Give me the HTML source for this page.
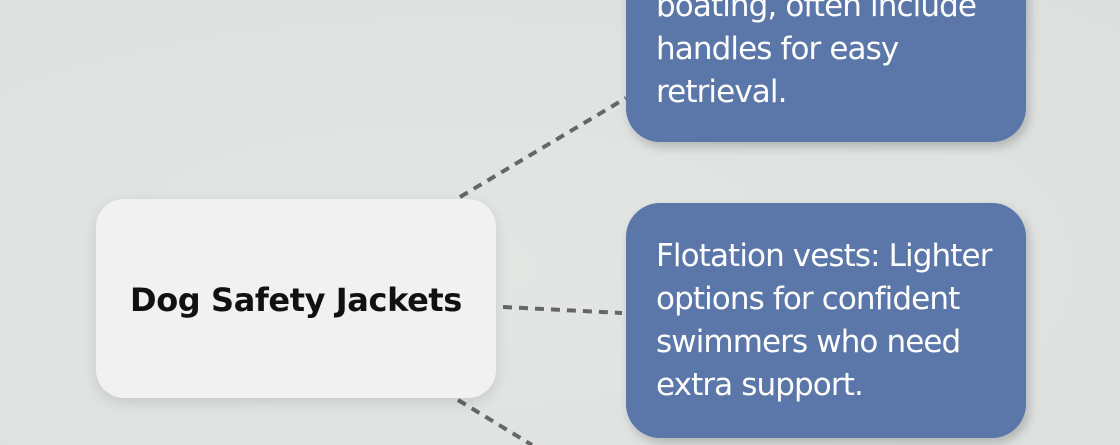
<!DOCTYPE html>
<html><head><style>
html,body{margin:0;padding:0}
body{width:1120px;height:445px;overflow:hidden;position:relative;background:radial-gradient(ellipse at 40% 60%,#e4e6e5,#dcdfde);font-family:"Liberation Sans","DejaVu Sans",sans-serif}
.n{position:absolute;box-sizing:border-box}
.c{left:96px;top:199px;width:400px;height:199px;background:#f0f1f0;border-radius:28px;box-shadow:0 4px 14px rgba(0,0,0,.12);display:flex;align-items:center;justify-content:center;font-weight:bold;font-size:32px;color:#111;font-family:"DejaVu Sans",sans-serif;letter-spacing:-0.4px;padding-top:2px}
.b{left:626px;width:400px;background:#5b76a8;border-radius:34px;color:#fff;font-size:31px;line-height:43px;padding-left:30px;box-shadow:3px 5px 10px rgba(0,0,0,.2);font-family:"DejaVu Sans",sans-serif;letter-spacing:-0.9px;white-space:nowrap}
</style></head><body>
<svg width="1120" height="445" style="position:absolute;left:0;top:0">
<g stroke="#666" stroke-width="4" stroke-dasharray="9,7" fill="none">
<line x1="460" y1="197" x2="626" y2="98"/>
<line x1="503" y1="307" x2="622" y2="313"/>
<line x1="458" y1="400" x2="532" y2="445"/>
</g></svg>
<div class="n c">Dog Safety Jackets</div>
<div class="n b" style="top:-100px;height:242px;padding-top:42px">Life jackets: Ideal for<br>boating, often include<br>handles for easy<br>retrieval.</div>
<div class="n b" style="top:203px;height:235px;padding-top:32px">Flotation vests: Lighter<br>options for confident<br>swimmers who need<br>extra support.</div>
</body></html>
